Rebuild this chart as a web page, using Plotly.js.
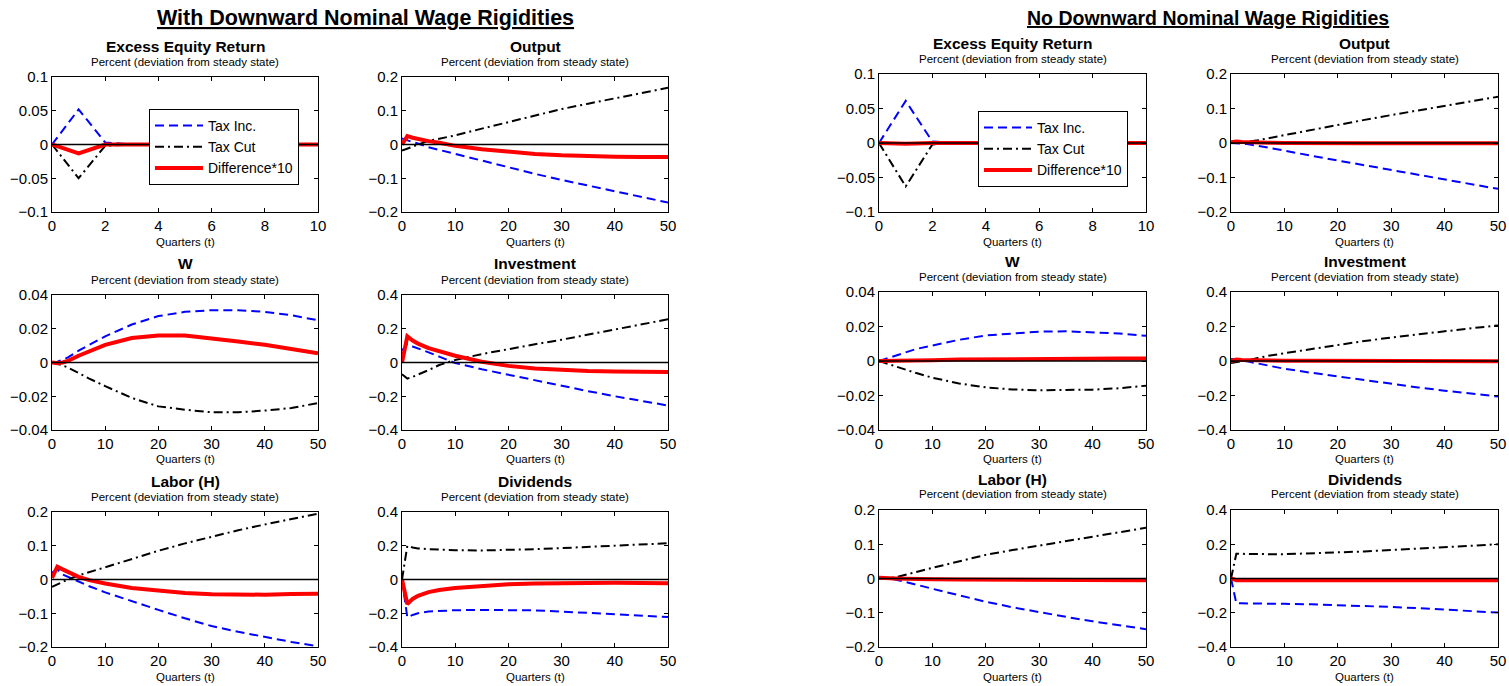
<!DOCTYPE html>
<html>
<head>
<meta charset="utf-8">
<script src="https://cdn.plot.ly/plotly-3.0.1.min.js"></script>
<style>html,body{margin:0;padding:0;background:#fff;}#chart{width:1509px;height:686px;}</style>
</head>
<body>
<div id="chart"></div>
<script>
// ---------- DATA ----------
const groupTitles = ["With Downward Nominal Wage Rigidities", "No Downward Nominal Wage Rigidities"];
const panelTitles = ["Excess Equity Return", "Output", "W", "Investment", "Labor (H)", "Dividends"];
const subTitle = "Percent (deviation from steady state)";
const xLabel = "Quarters (t)";
const seriesNames = ["Tax Inc.", "Tax Cut", "Difference*10"];

const tExcess = [0, 1, 2, 3, 4, 5, 6, 7, 8, 9, 10];
const tQuarters = [0, 1, 2, 3, 5, 7, 10, 15, 20, 25, 30, 35, 40, 45, 50];

const xTicksExcess = [0, 2, 4, 6, 8, 10];
const xTicksQuarters = [0, 10, 20, 30, 40, 50];
const yTicksExcess = [-0.1, -0.05, 0, 0.05, 0.1];
const yTicksOutput = [-0.2, -0.1, 0, 0.1, 0.2];
const yTicksW = [-0.04, -0.02, 0, 0.02, 0.04];
const yTicksInvest = [-0.4, -0.2, 0, 0.2, 0.4];
const yTicksLabor = [-0.2, -0.1, 0, 0.1, 0.2];
const yTicksDiv = [-0.4, -0.2, 0, 0.2, 0.4];

// With DNWR
const excessIncL  = [0, 0.052, 0.003, 0, 0, 0, 0, 0, 0, 0, 0];
const excessCutL  = [0, -0.050, -0.002, 0, 0, 0, 0, 0, 0, 0, 0];
const excessDiffL = [0, -0.013, 0, 0, 0, 0, 0, 0, 0, 0, 0];

const outputIncL  = [0.018, 0.012, 0.007, 0.003, -0.008, -0.016, -0.028, -0.048, -0.068, -0.087, -0.105, -0.122, -0.139, -0.156, -0.172];
const outputCutL  = [-0.018, -0.012, -0.006, 0.001, 0.011, 0.017, 0.027, 0.047, 0.067, 0.087, 0.105, 0.121, 0.137, 0.153, 0.168];
const outputDiffL = [0, 0.025, 0.020, 0.016, 0.010, 0.005, -0.004, -0.014, -0.022, -0.028, -0.032, -0.035, -0.036, -0.037, -0.037];

const wIncL  = [0, 0.0005, 0.0015, 0.003, 0.007, 0.0105, 0.0155, 0.0225, 0.0275, 0.030, 0.031, 0.031, 0.030, 0.028, 0.025];
const wCutL  = [0, -0.0007, -0.0017, -0.003, -0.0065, -0.0095, -0.014, -0.021, -0.026, -0.028, -0.0295, -0.0295, -0.0285, -0.027, -0.024];
const wDiffL = [0, -0.0005, 0, 0.001, 0.004, 0.0065, 0.0105, 0.0145, 0.016, 0.016, 0.0145, 0.0125, 0.0105, 0.008, 0.0055];

const invIncL  = [0.07, 0.11, 0.095, 0.082, 0.06, 0.035, -0.003, -0.04, -0.073, -0.105, -0.14, -0.17, -0.20, -0.228, -0.255];
const invCutL  = [-0.07, -0.095, -0.085, -0.072, -0.045, -0.015, 0.015, 0.05, 0.08, 0.108, 0.135, 0.165, 0.198, 0.228, 0.256];
const invDiffL = [0, 0.155, 0.13, 0.112, 0.085, 0.065, 0.04, 0.005, -0.02, -0.035, -0.045, -0.05, -0.053, -0.056, -0.057];

const laborIncL  = [0.02, 0.03, 0.015, 0.008, -0.006, -0.02, -0.038, -0.065, -0.09, -0.115, -0.138, -0.155, -0.171, -0.185, -0.198];
const laborCutL  = [-0.022, -0.015, -0.006, 0.0, 0.012, 0.022, 0.036, 0.061, 0.085, 0.107, 0.127, 0.146, 0.163, 0.18, 0.195];
const laborDiffL = [0.005, 0.038, 0.03, 0.022, 0.008, -0.002, -0.012, -0.025, -0.034, -0.04, -0.044, -0.045, -0.045, -0.043, -0.042];

const divIncL  = [0, -0.225, -0.21, -0.2, -0.19, -0.186, -0.182, -0.18, -0.18, -0.183, -0.19, -0.197, -0.205, -0.213, -0.222];
const divCutL  = [0, 0.2, 0.19, 0.184, 0.18, 0.177, 0.174, 0.172, 0.175, 0.18, 0.186, 0.193, 0.2, 0.207, 0.215];
const divDiffL = [0, -0.145, -0.115, -0.097, -0.075, -0.062, -0.05, -0.036, -0.028, -0.023, -0.02, -0.019, -0.019, -0.02, -0.022];

// No DNWR
const excessIncR  = [0, 0.061, 0.002, 0, 0, 0, 0, 0, 0, 0, 0];
const excessCutR  = [0, -0.063, -0.002, 0, 0, 0, 0, 0, 0, 0, 0];
const excessDiffR = [0, -0.001, 0, 0, 0, 0, 0, 0, 0, 0, 0];

const outputIncR  = [0, -0.001, -0.002, -0.003, -0.008, -0.013, -0.022, -0.037, -0.051, -0.065, -0.079, -0.093, -0.107, -0.12, -0.133];
const outputCutR  = [0, 0.001, 0.002, 0.003, 0.008, 0.014, 0.024, 0.039, 0.053, 0.067, 0.081, 0.095, 0.108, 0.121, 0.134];
const outputDiffR = [0.002, 0.004, 0.003, 0.003, 0.002, 0.001, 0, -0.001, -0.001, -0.001, -0.001, -0.001, -0.001, -0.001, -0.001];

const wIncR  = [0, 0.001, 0.002, 0.003, 0.0053, 0.007, 0.009, 0.0123, 0.0148, 0.016, 0.017, 0.0172, 0.0168, 0.016, 0.0146];
const wCutR  = [0, -0.001, -0.002, -0.003, -0.0052, -0.007, -0.0097, -0.013, -0.0153, -0.0165, -0.017, -0.017, -0.0166, -0.0158, -0.0143];
const wDiffR = [0, 0, 0, 0.0001, 0.0002, 0.0003, 0.0005, 0.0008, 0.001, 0.0011, 0.0012, 0.0013, 0.0014, 0.0015, 0.0015];

const invIncR  = [0.012, 0.01, 0.004, -0.002, -0.015, -0.028, -0.045, -0.068, -0.09, -0.112, -0.133, -0.153, -0.172, -0.19, -0.206];
const invCutR  = [-0.012, -0.008, -0.003, 0.003, 0.017, 0.03, 0.045, 0.07, 0.095, 0.116, 0.136, 0.155, 0.173, 0.19, 0.206];
const invDiffR = [0, 0.008, 0.006, 0.005, 0.004, 0.003, 0.002, 0.001, 0.001, 0, 0, -0.001, -0.001, -0.002, -0.002];

const laborIncR  = [0, 0, -0.001, -0.003, -0.01, -0.018, -0.03, -0.05, -0.068, -0.084, -0.099, -0.112, -0.125, -0.137, -0.148];
const laborCutR  = [0, 0, 0.001, 0.003, 0.01, 0.019, 0.031, 0.051, 0.069, 0.083, 0.096, 0.11, 0.123, 0.136, 0.148];
const laborDiffR = [0.002, 0.002, 0.001, 0, -0.001, -0.002, -0.002, -0.003, -0.003, -0.004, -0.004, -0.004, -0.005, -0.005, -0.005];

const divIncR  = [0, -0.145, -0.145, -0.145, -0.146, -0.147, -0.148, -0.151, -0.155, -0.16, -0.166, -0.173, -0.181, -0.19, -0.199];
const divCutR  = [0, 0.145, 0.144, 0.143, 0.142, 0.142, 0.142, 0.146, 0.151, 0.158, 0.166, 0.174, 0.183, 0.192, 0.2];
const divDiffR = [0, -0.01, -0.01, -0.01, -0.01, -0.01, -0.01, -0.01, -0.01, -0.01, -0.01, -0.01, -0.01, -0.01, -0.01];

// ---------- BUILD ----------
const W = 1509, H = 686;
const FONT = "Liberation Sans, Arial, Helvetica, sans-serif";

const panels = [
  {g:0, p:0, t:tExcess, xt:xTicksExcess, yt:yTicksExcess, s:[excessIncL, excessCutL, excessDiffL]},
  {g:0, p:1, t:tQuarters, xt:xTicksQuarters, yt:yTicksOutput, s:[outputIncL, outputCutL, outputDiffL]},
  {g:0, p:2, t:tQuarters, xt:xTicksQuarters, yt:yTicksW, s:[wIncL, wCutL, wDiffL]},
  {g:0, p:3, t:tQuarters, xt:xTicksQuarters, yt:yTicksInvest, s:[invIncL, invCutL, invDiffL]},
  {g:0, p:4, t:tQuarters, xt:xTicksQuarters, yt:yTicksLabor, s:[laborIncL, laborCutL, laborDiffL]},
  {g:0, p:5, t:tQuarters, xt:xTicksQuarters, yt:yTicksDiv, s:[divIncL, divCutL, divDiffL]},
  {g:1, p:0, t:tExcess, xt:xTicksExcess, yt:yTicksExcess, s:[excessIncR, excessCutR, excessDiffR]},
  {g:1, p:1, t:tQuarters, xt:xTicksQuarters, yt:yTicksOutput, s:[outputIncR, outputCutR, outputDiffR]},
  {g:1, p:2, t:tQuarters, xt:xTicksQuarters, yt:yTicksW, s:[wIncR, wCutR, wDiffR]},
  {g:1, p:3, t:tQuarters, xt:xTicksQuarters, yt:yTicksInvest, s:[invIncR, invCutR, invDiffR]},
  {g:1, p:4, t:tQuarters, xt:xTicksQuarters, yt:yTicksLabor, s:[laborIncR, laborCutR, laborDiffR]},
  {g:1, p:5, t:tQuarters, xt:xTicksQuarters, yt:yTicksDiv, s:[divIncR, divCutR, divDiffR]}
];

// pixel geometry
const colPx = [[[52,318],[402,668]], [[879,1146],[1231,1498]]];
const rowPx = [[[77,212],[295,430],[512,647]], [[74,212],[292,430],[510,647]]];
const titleY = [[46,263,482],[44,261,479]];
const subY = [[62,280,497],[59,277,494]];
const quartY = [[242,459,677],[242,459,677]];

const styles = [
  {color:'#0000ff', width:2, dash:'9px,5px'},
  {color:'#000000', width:2, dash:'9px,4px,2px,4px'},
  {color:'#ff0000', width:4, dash:'solid'}
];

const px2x = v => v / W;
const px2y = v => 1 - v / H;

const traces = [];
const layout = {
  width: W, height: H,
  margin: {l:0, r:0, t:0, b:0},
  paper_bgcolor: '#ffffff', plot_bgcolor: '#ffffff',
  showlegend: true,
  font: {family: FONT, color: '#000', size: 14},
  annotations: [], shapes: []
};

panels.forEach((pn, i) => {
  const k = i + 1;
  const xa = 'xaxis' + (k === 1 ? '' : k), ya = 'yaxis' + (k === 1 ? '' : k);
  const xr = 'x' + (k === 1 ? '' : k), yr = 'y' + (k === 1 ? '' : k);
  const col = pn.p % 2, row = Math.floor(pn.p / 2);
  const cx = colPx[pn.g][col], ry = rowPx[pn.g][row];
  const isExcess = pn.p === 0;
  pn.s.forEach((vals, j) => {
    traces.push({
      type: 'scatter', mode: 'lines', x: pn.t, y: vals,
      xaxis: xr, yaxis: yr, name: seriesNames[j],
      line: {color: styles[j].color, width: styles[j].width, dash: styles[j].dash},
      showlegend: isExcess,
      legend: pn.g === 0 ? 'legend' : 'legend2',
      hoverinfo: 'skip'
    });
  });
  const common = {
    showline: true, mirror: 'ticks', linecolor: '#000', linewidth: 1,
    ticks: 'inside', ticklen: 4, tickcolor: '#000', tickwidth: 1,
    showgrid: false, zeroline: false, automargin: false, fixedrange: true,
    tickfont: {family: FONT, size: 15, color: '#000'}
  };
  layout[xa] = Object.assign({}, common, {
    domain: [px2x(cx[0]), px2x(cx[1])], anchor: yr,
    range: [pn.xt[0], pn.xt[pn.xt.length - 1]], tickmode: 'array', tickvals: pn.xt
  });
  layout[ya] = Object.assign({}, common, {
    domain: [px2y(ry[1]), px2y(ry[0])], anchor: xr,
    range: [pn.yt[0], pn.yt[pn.yt.length - 1]], tickmode: 'array', tickvals: pn.yt
  });
  // zero line above traces
  layout.shapes.push({type:'line', xref: xr + ' domain', x0:0, x1:1, yref: yr, y0:0, y1:0,
    line:{color:'#000', width:1.5}, layer:'above'});
  const xc = px2x((cx[0] + cx[1]) / 2);
  layout.annotations.push({text: '<b>' + panelTitles[pn.p] + '</b>', xref:'paper', yref:'paper',
    x: xc, y: px2y(titleY[pn.g][row]), xanchor:'center', yanchor:'middle', showarrow:false,
    font:{family: FONT, size: 15.5, color:'#000'}});
  layout.annotations.push({text: subTitle, xref:'paper', yref:'paper',
    x: xc, y: px2y(subY[pn.g][row]), xanchor:'center', yanchor:'middle', showarrow:false,
    font:{family: FONT, size: 11.5, color:'#000'}});
  layout.annotations.push({text: xLabel, xref:'paper', yref:'paper',
    x: xc, y: px2y(quartY[pn.g][row]), xanchor:'center', yanchor:'middle', showarrow:false,
    font:{family: FONT, size: 11.5, color:'#000'}});
});

// group titles
layout.annotations.push({text: '<b><u>' + groupTitles[0] + '</u></b>', xref:'paper', yref:'paper',
  x: px2x(365.5), y: px2y(18), xanchor:'center', yanchor:'middle', showarrow:false,
  font:{family: FONT, size: 21.5, color:'#000'}});
layout.annotations.push({text: '<b><u>' + groupTitles[1] + '</u></b>', xref:'paper', yref:'paper',
  x: px2x(1208), y: px2y(18), xanchor:'center', yanchor:'middle', showarrow:false,
  font:{family: FONT, size: 19.5, color:'#000'}});

const legendBase = {
  xref:'paper', yref:'paper', xanchor:'left', yanchor:'top',
  bgcolor:'#ffffff', bordercolor:'#000', borderwidth:1,
  font:{family: FONT, size: 14, color:'#000'}, tracegroupgap: 0, itemwidth: 48
};
layout.legend = Object.assign({}, legendBase, {x: px2x(149), y: px2y(109)});
layout.legend2 = Object.assign({}, legendBase, {x: px2x(978), y: px2y(111)});

Plotly.newPlot('chart', traces, layout, {displayModeBar:false, staticPlot:true});
</script>
</body>
</html>
